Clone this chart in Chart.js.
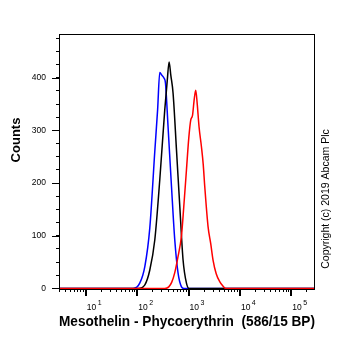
<!DOCTYPE html>
<html>
<head>
<meta charset="utf-8">
<script src="https://cdn.jsdelivr.net/npm/chart.js@4.4.0/dist/chart.umd.min.js"></script>
<style>
  html, body { margin: 0; padding: 0; background: #fff; }
</style>
</head>
<body>
<canvas id="flowChart" width="362" height="351"></canvas>
<script>
// PE channel values and event counts
const redX   = [3, 344, 412, 471, 539, 617, 728, 807, 910, 1009, 1105, 1192, 1292, 1380, 1476, 1600, 1782, 1932, 2066, 2395, 2703, 2998, 3456, 4045, 4625, 5293, 290000];
const redY   = [0, 0, 3, 12, 30, 58, 100, 155, 225, 285, 320, 328, 360, 376, 350, 307, 269, 235, 194, 118, 85, 54, 28, 13, 5, 0, 0];
const blackX = [3, 104, 141, 176, 220, 275, 344, 385, 418, 451, 499, 582, 675, 782, 910, 1023, 290000];
const blackY = [0, 0, 7, 35, 92, 206, 339, 395, 430, 405, 371, 263, 156, 54, 10, 0, 0];
const blueX  = [3, 83, 112, 141, 176, 220, 250, 275, 301, 334, 355, 399, 465, 539, 625, 728, 807, 290000];
const blueY  = [0, 0, 10, 42, 115, 260, 340, 410, 405, 399, 390, 307, 194, 92, 29, 3, 0, 0];

const xMin = 3, xMax = 290000;
const yMin = -1, yMax = 483;
const xMajor = [10, 100, 1000, 10000, 100000];
const xExponents = ['1', '2', '3', '4', '5'];
const yLabels = [0, 100, 200, 300, 400];

const FONT = "'Liberation Sans', Arial, sans-serif";

// tick marks: every 1..9 x 10^n on x, every 25 counts on y
const xTicks = [];
for (let e = 0; e <= 5; e++) {
  for (let s = 1; s <= 9; s++) {
    const v = s * Math.pow(10, e);
    if (v >= xMin && v <= xMax) xTicks.push(v);
  }
}
const yTicks = [];
for (let v = 0; v <= yMax; v += 25) yTicks.push(v);

function points(xs, ys) {
  return xs.map((x, i) => ({ x: x, y: ys[i] }));
}

const decorations = {
  id: 'decorations',
  afterDraw(chart) {
    const { ctx, chartArea: a, scales: { x, y } } = chart;
    ctx.save();
    ctx.strokeStyle = '#000';
    ctx.lineWidth = 1;
    ctx.strokeRect(a.left + 0.5, a.top + 0.5, a.right - a.left - 1, a.bottom - a.top);

    // longer marks at decades and at labelled counts
    ctx.lineWidth = 2;
    xMajor.forEach(v => {
      const px = Math.round(x.getPixelForValue(v));
      ctx.beginPath();
      ctx.moveTo(px, a.bottom);
      ctx.lineTo(px, a.bottom + 7);
      ctx.stroke();
    });
    ctx.lineWidth = 1;
    yLabels.forEach(v => {
      const py = Math.round(y.getPixelForValue(v)) + 0.5;
      ctx.beginPath();
      ctx.moveTo(a.left - 7, py);
      ctx.lineTo(a.left, py);
      ctx.stroke();
    });

    // decade labels: 10 with a raised exponent
    ctx.fillStyle = '#000';
    ctx.textAlign = 'left';
    ctx.textBaseline = 'alphabetic';
    xMajor.forEach((v, i) => {
      const px = x.getPixelForValue(v) + 1;
      ctx.font = '8.5px ' + FONT;
      ctx.fillText('10', px, 309.5);
      const w = ctx.measureText('10').width;
      ctx.font = '7px ' + FONT;
      ctx.fillText(xExponents[i], px + w + 1.5, 304.5);
    });

    ctx.textAlign = 'center';
    ctx.textBaseline = 'middle';

    ctx.save();
    ctx.translate(16, 140);
    ctx.rotate(-Math.PI / 2);
    ctx.font = 'bold 13px ' + FONT;
    ctx.fillText('Counts', 0, 0);
    ctx.restore();

    ctx.save();
    ctx.translate(326, 199);
    ctx.rotate(-Math.PI / 2);
    ctx.font = '10.5px ' + FONT;
    ctx.fillText('Copyright (c) 2019 Abcam Plc', 0, 0);
    ctx.restore();

    ctx.restore();
  }
};

const ctx = document.getElementById('flowChart').getContext('2d');
new Chart(ctx, {
  type: 'line',
  data: {
    datasets: [
      { data: points(redX, redY), borderColor: '#ff0000' },
      { data: points(blackX, blackY), borderColor: '#000000' },
      { data: points(blueX, blueY), borderColor: '#0000ff' }
    ]
  },
  options: {
    responsive: false,
    animation: false,
    datasets: {
      line: {
        borderWidth: 1.5,
        pointRadius: 0,
        fill: false,
        cubicInterpolationMode: 'monotone'
      }
    },
    layout: { padding: { top: 34, right: 47, left: 0, bottom: 0 } },
    plugins: {
      legend: { display: false },
      tooltip: { enabled: false }
    },
    scales: {
      x: {
        type: 'logarithmic',
        min: xMin,
        max: xMax,
        afterBuildTicks: scale => { scale.ticks = xTicks.map(v => ({ value: v })); },
        afterFit: scale => { scale.height = 62; },
        border: { display: false },
        grid: { drawOnChartArea: false, color: '#000', tickLength: 3 },
        ticks: {
          autoSkip: false,
          maxRotation: 0,
          callback: () => ''
        },
        title: {
          display: true,
          text: 'Mesothelin - Phycoerythrin  (586/15 BP)',
          color: '#000',
          font: { family: FONT, size: 15, weight: 'bold' },
          padding: { top: 0, bottom: 20 }
        }
      },
      y: {
        type: 'linear',
        min: yMin,
        max: yMax,
        afterBuildTicks: scale => { scale.ticks = yTicks.map(v => ({ value: v })); },
        afterFit: scale => { scale.width = 59; },
        border: { display: false },
        grid: { drawOnChartArea: false, color: '#000', tickLength: 3 },
        ticks: {
          autoSkip: false,
          padding: 10,
          color: '#000',
          font: { family: FONT, size: 8.5 },
          callback: v => (yLabels.includes(v) ? String(v) : '')
        }
      }
    }
  },
  plugins: [decorations]
});
</script>
</body>
</html>
